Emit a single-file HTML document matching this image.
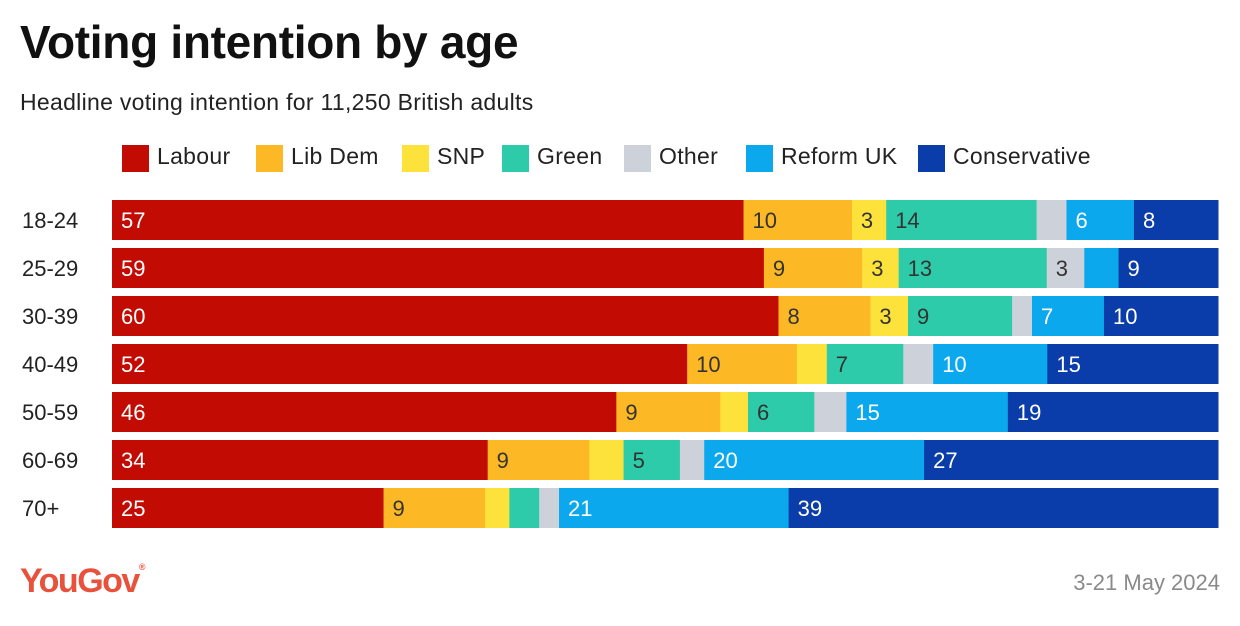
<!DOCTYPE html>
<html><head><meta charset="utf-8"><style>
body{margin:0;width:1240px;height:626px;background:#fff;font-family:"Liberation Sans",sans-serif;overflow:hidden;position:relative}
.t{position:absolute;white-space:nowrap}
</style></head><body>
<div class="t" style="left:20px;top:15px;font-size:46px;font-weight:bold;color:#111;letter-spacing:-0.3px">Voting intention by age</div>
<div class="t" style="left:20px;top:89px;font-size:23px;color:#222;letter-spacing:0.3px">Headline voting intention for 11,250 British adults</div>
<div id="legend"></div>
<svg id="chart" width="1240" height="626" style="position:absolute;left:0;top:0"></svg>
<div class="t" style="left:20px;top:562px;font-size:34px;font-weight:bold;color:#e8523c;letter-spacing:-1.5px">YouGov<span style="font-size:9px;vertical-align:top">®</span></div>
<div class="t" style="right:20px;top:570px;font-size:22px;color:#8a8a8a">3-21 May 2024</div>
<script>
const categories=["18-24","25-29","30-39","40-49","50-59","60-69","70+"];
const parties=["Labour","Lib Dem","SNP","Green","Other","Reform UK","Conservative"];
const colors=["#c20b02","#fdb825","#fde23b","#2ecbaa","#cdd1d9","#0ba8ee","#0a3da9"];
const textColors=["#fff","#333","#333","#333","#333","#fff","#fff"];
const labour=[57.1,59,60.2,51.9,45.6,34,24.6];
const libdem=[9.8,8.9,8.3,9.9,9.4,9.2,9.2];
const snp=[3.1,3.3,3.4,2.7,2.5,3.1,2.2];
const green=[13.6,13.4,9.4,6.9,6,5.1,2.7];
const other=[2.7,3.4,1.8,2.7,2.9,2.2,1.8];
const reform=[6.1,3.1,6.5,10.3,14.6,19.9,20.8];
const conservative=[7.6,9,10.3,15.4,19,26.6,38.9];
const showLabel=[[1,1,1,1,0,1,1],[1,1,1,1,1,0,1],[1,1,1,1,0,1,1],[1,1,0,1,0,1,1],[1,1,0,1,0,1,1],[1,1,0,1,0,1,1],[1,1,0,0,0,1,1]];
const series=[labour,libdem,snp,green,other,reform,conservative];
const X0=112,X1=1218,Y0=200,STEP=48,BH=40;
const svg=document.getElementById('chart');
const NS="http://www.w3.org/2000/svg";
function yPos(i){return Y0+i*STEP;}
categories.forEach((c,i)=>{
  const total=series.reduce((s,a)=>s+a[i],0);
  const xs=v=>v/total*(X1-X0);
  const lab=document.createElementNS(NS,'text');
  
  
  lab.setAttribute('x',22);lab.setAttribute('y',yPos(i)+BH/2+8);
  lab.setAttribute('font-size','22');lab.setAttribute('fill','#222');
  lab.textContent=c;svg.appendChild(lab);
  let x=X0;
  series.forEach((arr,k)=>{
    const w=xs(arr[i]);
    const r=document.createElementNS(NS,'rect');
    
    
    r.setAttribute('x',x);r.setAttribute('y',yPos(i));r.setAttribute('width',w+0.5);r.setAttribute('height',BH);
    r.setAttribute('fill',colors[k]);svg.appendChild(r);
    if(showLabel[i][k]){
      const t=document.createElementNS(NS,'text');
      
      
      t.setAttribute('x',x+9);t.setAttribute('y',yPos(i)+BH/2+8);
      t.setAttribute('font-size','22');t.setAttribute('fill',textColors[k]);
      t.textContent=Math.round(arr[i]);svg.appendChild(t);
    }
    x+=w;
  });
});
const lg=document.getElementById('legend');
const lx=[122,256,402,502,624,746,918];
parties.forEach((p,k)=>{
  const sq=document.createElement('div');
  
  
  sq.style.cssText=`position:absolute;left:${lx[k]}px;top:145px;width:27px;height:27px;background:${colors[k]}`;
  lg.appendChild(sq);
  const t=document.createElement('div');
  
  
  t.className='t';t.style.cssText=`left:${lx[k]+35}px;top:143px;font-size:23px;color:#222;letter-spacing:0.3px`;
  t.textContent=p;lg.appendChild(t);
});
</script>
</body></html>
